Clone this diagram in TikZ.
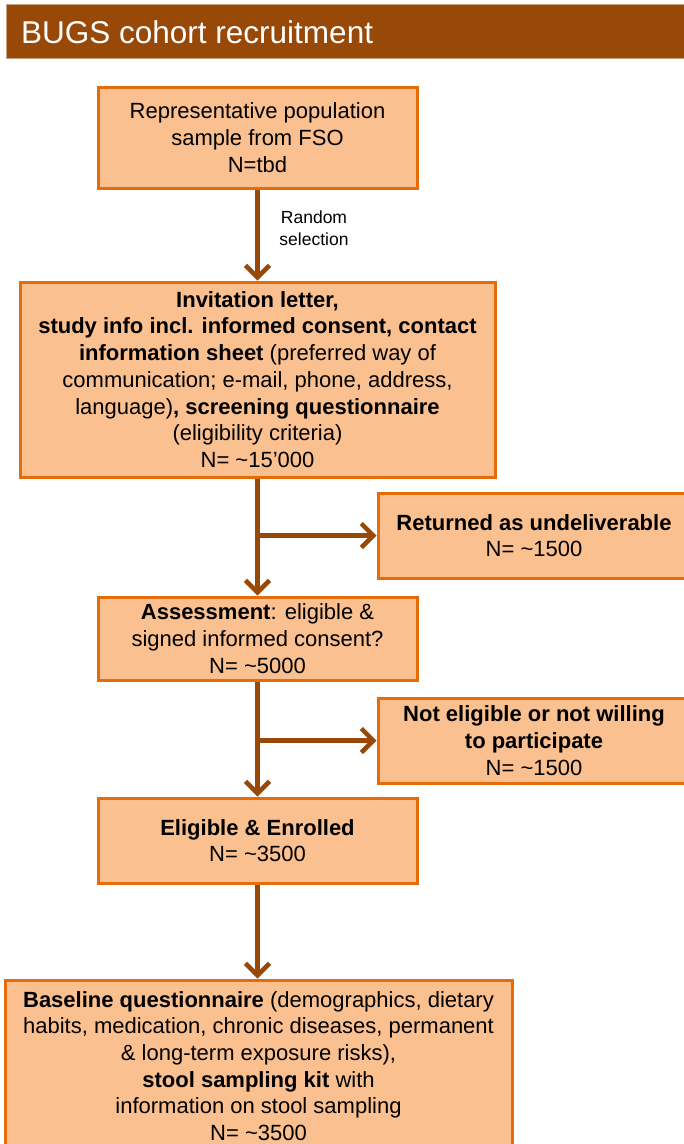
\documentclass[tikz,border=0pt]{standalone}
\usepackage{fontspec}
\setmainfont{Liberation Sans}
\usetikzlibrary{arrows.meta}
\definecolor{hdrbrown}{HTML}{984807}
\definecolor{boxfill}{HTML}{FAC090}
\definecolor{boxline}{HTML}{E46C0A}
\definecolor{hdrline}{HTML}{C9A27E}
\tikzset{
  box/.style={draw=boxline, fill=boxfill, line width=3pt, rectangle, inner sep=0pt,
    align=center, font=\fontsize{22}{26.7}\selectfont, text=black},
  arr/.style={draw=hdrbrown, line width=4.5pt,
    -{Straight Barb[length=12pt,width=24pt,line width=4.5pt]}},
  lbl/.style={align=center, font=\fontsize{17.5}{22}\selectfont, text=black, inner sep=0pt},
  hdrtext/.style={anchor=west, text=white, font=\fontsize{31.5}{36}\selectfont, inner sep=0pt}
}
\begin{document}
\begin{tikzpicture}[x=1pt,y=-1pt]
\useasboundingbox (0,0) rectangle (684,1144);
\clip (0,0) rectangle (684,1144);
\fill[white] (0,0) rectangle (684,1144);
% header
\filldraw[fill=hdrbrown, draw=hdrline, line width=0.8pt] (6,4) rectangle (700,58);
\node[hdrtext] (title) at (21,32) {BUGS cohort recruitment};
% boxes
\node[box, minimum width=319pt, minimum height=101pt] (b1) at (257.5,137.5)
  {Representative population\\ sample from FSO\\ N=tbd};
\node[box, minimum width=475pt, minimum height=195pt] (b2) at (257.5,379.5)
  {\textbf{Invitation letter,}\\
   \textbf{study info incl. informed consent, contact}\\
   \textbf{information sheet} (preferred way of\\
   communication; e-mail, phone, address,\\
   language)\textbf{, screening questionnaire}\\
   (eligibility criteria)\\
   N= \textasciitilde15’000};
\node[box, minimum width=312pt, minimum height=85pt] (b4) at (534,535.5)
  {\textbf{Returned as undeliverable}\\ N= \textasciitilde1500};
\node[box, minimum width=319pt, minimum height=83pt] (b3) at (257.5,638.5)
  {\textbf{Assessment}: eligible \&\\ signed informed consent?\\ N= \textasciitilde5000};
\node[box, minimum width=312pt, minimum height=85pt] (b6) at (534,740.5)
  {\textbf{Not eligible or not willing}\\ \textbf{to participate}\\ N= \textasciitilde1500};
\node[box, minimum width=319pt, minimum height=85pt] (b5) at (257.5,840.5)
  {\textbf{Eligible \& Enrolled}\\ N= \textasciitilde3500};
\node[box, minimum width=507pt, minimum height=172pt] (b7) at (258.5,1066)
  {\textbf{Baseline questionnaire} (demographics, dietary\\
   habits, medication, chronic diseases, permanent\\
   \& long-term exposure risks),\\
   \textbf{stool sampling kit} with\\
   information on stool sampling\\
   N= \textasciitilde3500};
% label
\node[lbl] (rs) at (314,228) {Random\\ selection};
% connectors
\draw[arr] (b1.south) -- (b2.north);
\draw[arr] (b2.south) -- (b3.north);
\draw[arr] (b2.south |- b4.west) -- (b4.west);
\draw[arr] (b3.south) -- (b5.north);
\draw[arr] (b3.south |- b6.west) -- (b6.west);
\draw[arr] (b5.south) -- (b5.south |- b7.north);
\end{tikzpicture}
\end{document}
